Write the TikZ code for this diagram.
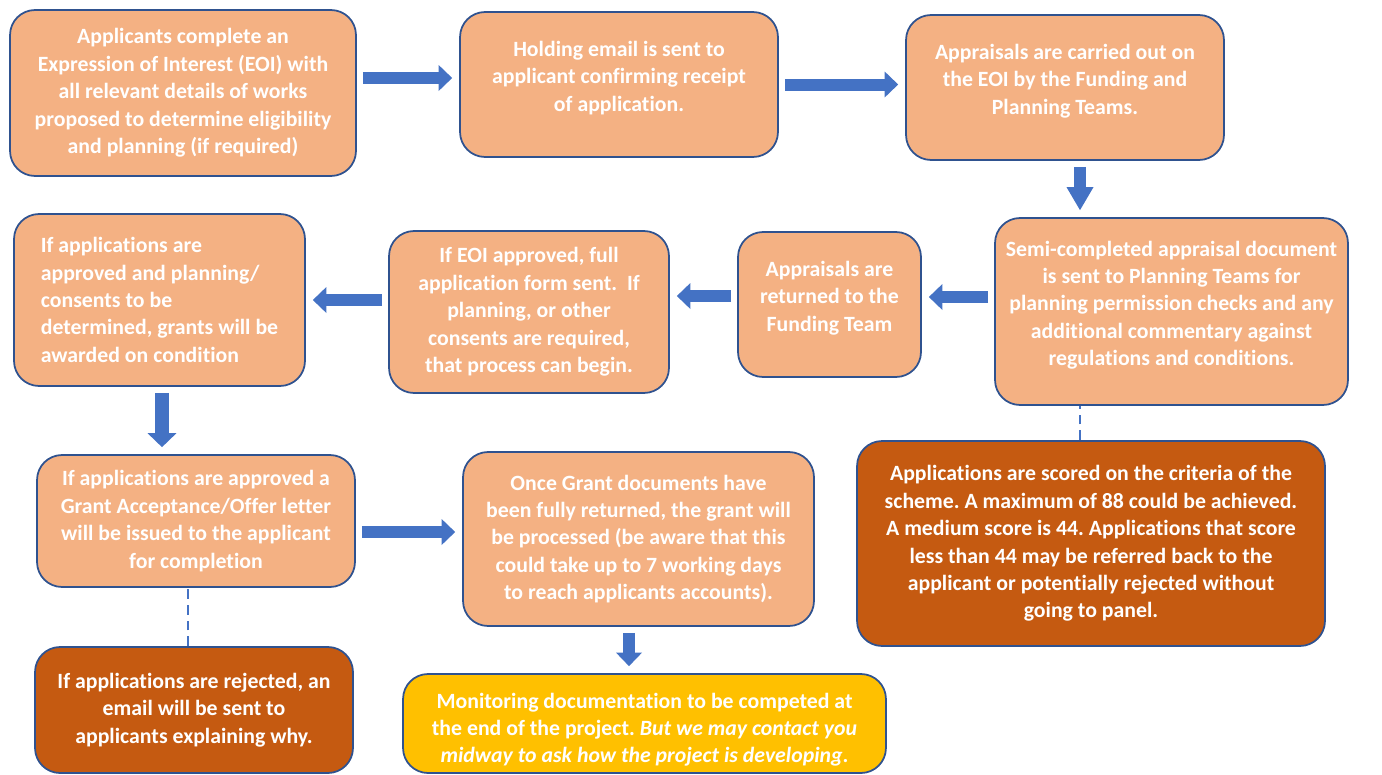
\documentclass[tikz,border=0pt]{standalone}
\usepackage{fontspec}
\setmainfont{Carlito}[Ligatures=NoCommon]
\usetikzlibrary{arrows.meta,calc}
\definecolor{peach}{HTML}{F4B183}
\definecolor{rust}{HTML}{C55A11}
\definecolor{amber}{HTML}{FFC000}
\definecolor{edgeblue}{HTML}{2F528F}
\definecolor{arrowblue}{HTML}{4472C4}
\frenchspacing
\begin{document}
\begin{tikzpicture}[x=0.02cm,y=-0.02cm,
  box/.style={draw=edgeblue,line width=1pt,fill=peach,rounded corners=0.5cm,text=white,
    font=\fontsize{12.4}{15.6}\selectfont\bfseries,align=center,inner sep=0pt},
  lifted/.style={text depth=9.4pt},
  blockarr/.style={draw=arrowblue,line width=0.24cm,
    -{Triangle[width=0.52cm,length=0.27cm,line width=0pt]},shorten <=0.12cm,shorten >=0.14cm},
  linkdash/.style={draw=arrowblue,line width=1.1pt,dash pattern=on 5.5pt off 3.5pt}]
\useasboundingbox (0,0) rectangle (1382,774);
% top row
\node[box,minimum width=6.92cm,minimum height=3.32cm] (eoi) at (183,93)
  {Applicants complete an\\Expression of Interest (EOI) with\\all relevant details of works\\proposed to determine eligibility\\and planning (if required)};
\node[box,lifted,minimum width=6.36cm,minimum height=2.9cm] (holding) at (619,84.5)
  {Holding email is sent to\\applicant confirming receipt\\of application.};
\node[box,lifted,minimum width=6.36cm,minimum height=2.9cm] (appraise) at (1065,87.5)
  {Appraisals are carried out on\\the EOI by the Funding and\\Planning Teams.};
% middle row
\node[box,lifted,minimum width=7.06cm,minimum height=3.74cm] (semi) at (1171.5,311.5)
  {Semi-completed appraisal document\\is sent to Planning Teams for\\planning permission checks and any\\additional commentary against\\regulations and conditions.};
\node[box,lifted,minimum width=3.66cm,minimum height=2.9cm] (returned) at (829.5,304.5)
  {Appraisals are\\returned to the\\Funding Team};
\node[box,minimum width=5.6cm,minimum height=3.24cm] (eoiok) at (529,312)
  {If EOI approved, full\\application form sent.\ \ If\\planning, or other\\consents are required,\\that process can begin.};
\node[box,align=left,minimum width=5.82cm,minimum height=3.44cm] (approved) at (159.5,300)
  {If applications are\\approved and planning/\\consents to be\\determined, grants will be\\awarded on condition};
% lower rows
\node[box,minimum width=6.36cm,minimum height=2.64cm] (offer) at (196,521)
  {If applications are approved a\\Grant Acceptance/Offer letter\\will be issued to the applicant\\for completion};
\node[box,minimum width=7.02cm,minimum height=3.48cm] (processed) at (638.5,539)
  {Once Grant documents have\\been fully returned, the grant will\\be processed (be aware that this\\could take up to 7 working days\\to reach applicants accounts).};
\node[box,fill=rust,minimum width=9.36cm,minimum height=4.1cm] (scored) at (1091,543.5)
  {Applications are scored on the criteria of the\\scheme. A maximum of 88 could be achieved.\\A medium score is 44. Applications that score\\less than 44 may be referred back to the\\applicant or potentially rejected without\\going to panel.};
\node[box,fill=amber,minimum width=9.66cm,minimum height=1.98cm] (monitor) at (644.5,723.5)
  {\rule{0pt}{15.8pt}Monitoring documentation to be competed at\\the end of the project. {\itshape But we may contact you}\\{\itshape midway to ask how the project is developing}.};
\node[box,fill=rust,minimum width=6.36cm,minimum height=2.52cm] (rejected) at (194,710)
  {If applications are rejected, an\\email will be sent to\\applicants explaining why.};
% arrows
\draw[blockarr] ([yshift=0.3cm]eoi.east) -- ([yshift=0.3cm]eoi.east -| holding.west);
\draw[blockarr] (holding.east) -- (holding.east -| appraise.west);
\draw[blockarr,-{Triangle[width=0.54cm,length=0.46cm,line width=0pt]}] ([xshift=0.3cm]appraise.south) -- ([xshift=0.3cm]appraise.south |- semi.north);
\draw[blockarr] ([yshift=0.15cm]semi.west |- returned.east) -- ([yshift=0.15cm]returned.east);
\draw[blockarr] ([yshift=0.17cm]returned.west) -- ([yshift=0.17cm]returned.west -| eoiok.east);
\draw[blockarr] (eoiok.west |- approved.east) -- (approved.east);
\draw[blockarr,line width=0.29cm,-{Triangle[width=0.58cm,length=0.28cm,line width=0pt]}] ([xshift=0.05cm]approved.south) -- ([xshift=0.05cm]approved.south |- offer.north);
\draw[blockarr] ([yshift=-0.22cm]offer.east) -- ([yshift=-0.22cm]offer.east -| processed.west);
\draw[blockarr] ([xshift=-0.19cm]processed.south) -- ([xshift=-0.19cm]processed.south |- monitor.north);
% dashed links
\draw[linkdash] ([xshift=-0.22cm]scored.north) -- ([xshift=-0.22cm]scored.north |- semi.south);
\draw[linkdash] ([xshift=-0.12cm]rejected.north) -- ([xshift=-0.12cm]rejected.north |- offer.south);
\end{tikzpicture}
\end{document}
